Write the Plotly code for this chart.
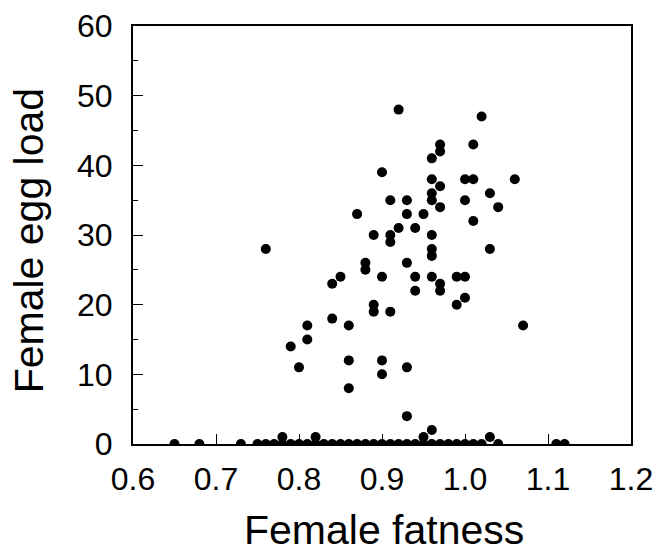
import plotly.graph_objects as go

# Non-zero egg loads (fatness, egg load)
fat_pos = [0.76, 0.87, 0.89, 0.88, 0.88, 0.84, 0.85, 0.89, 0.89, 0.84, 0.86, 0.81, 0.81, 0.79, 0.80,
           0.86, 0.86, 0.90, 0.90, 0.90, 0.90, 0.92, 1.02, 0.97, 0.97, 1.01, 0.96, 0.96, 1.00, 1.01,
           1.06, 0.97, 0.96, 1.03, 0.91, 0.93, 0.96, 1.00, 0.97, 1.04, 0.93, 0.95, 1.01, 0.92, 0.94,
           0.91, 0.91, 0.96, 0.96, 0.96, 1.03, 0.93, 0.94, 0.96, 0.99, 1.00, 0.97, 0.94, 0.97, 1.00,
           0.99, 0.91, 1.07, 0.93, 0.93, 0.96, 0.95, 1.03, 0.78, 0.82]
egg_pos = [28, 33, 30, 26, 25, 23, 24, 20, 19, 18, 17, 17, 15, 14, 11,
           12, 8, 39, 24, 12, 10, 48, 47, 43, 42, 43, 41, 38, 38, 38,
           38, 37, 36, 36, 35, 35, 35, 35, 34, 34, 33, 33, 32, 31, 31,
           30, 29, 30, 28, 27, 28, 26, 24, 24, 24, 24, 23, 22, 22, 21,
           20, 19, 17, 11, 4, 2, 1, 1, 1, 1]

# Zero egg loads
fat_zero = [0.65, 0.68, 0.73, 0.75, 0.76, 0.77, 0.78, 0.79, 0.80, 0.81, 0.82, 0.83, 0.84, 0.85,
            0.86, 0.87, 0.88, 0.89, 0.90, 0.91, 0.92, 0.93, 0.94, 0.95, 0.96, 0.97, 0.98, 0.99,
            1.00, 1.01, 1.02, 1.04, 1.11, 1.12]
egg_zero = [0] * len(fat_zero)

x_ticks = [0.6, 0.7, 0.8, 0.9, 1.0, 1.1, 1.2]
x_tick_text = ["0.6", "0.7", "0.8", "0.9", "1.0", "1.1", "1.2"]
y_ticks = [0, 10, 20, 30, 40, 50, 60]
x_title = "Female fatness"
y_title = "Female egg load"

fig = go.Figure()
fig.add_trace(go.Scatter(x=fat_zero + fat_pos, y=egg_zero + egg_pos, mode="markers",
                         marker=dict(size=10, color="black"), showlegend=False))

font = "Liberation Sans, Arial, sans-serif"
fig.update_layout(
    width=660, height=539,
    margin=dict(l=125, r=37, t=18, b=103, autoexpand=False),
    paper_bgcolor="white", plot_bgcolor="white",
    font=dict(family=font, color="black"),
    xaxis=dict(range=[0.6, 1.2], tickvals=x_ticks, ticktext=x_tick_text,
               ticks="inside", ticklen=10, tickwidth=1, tickcolor="black",
               showline=True, linecolor="black", linewidth=2, mirror=True,
               showgrid=False, zeroline=False, automargin=False,
               tickfont=dict(size=32, family=font), ticklabelstandoff=6),
    yaxis=dict(range=[0, 60], tickvals=y_ticks,
               ticks="inside", ticklen=10, tickwidth=1, tickcolor="black",
               minor=dict(dtick=5, ticks="inside", ticklen=5, tickcolor="black", showgrid=False),
               showline=True, linecolor="black", linewidth=2, mirror=True,
               showgrid=False, zeroline=False, automargin=False,
               tickfont=dict(size=32, family=font), ticklabelstandoff=12),
    annotations=[
        dict(text=x_title, xref="paper", yref="paper", x=0.504, y=-0.206,
             xanchor="center", yanchor="middle", showarrow=False,
             font=dict(size=41, family=font, color="black")),
        dict(text=y_title, xref="paper", yref="paper", x=-0.2088, y=0.485,
             xanchor="center", yanchor="middle", textangle=-90, showarrow=False,
             font=dict(size=41, family=font, color="black")),
    ],
)

fig.write_html("out.html")
